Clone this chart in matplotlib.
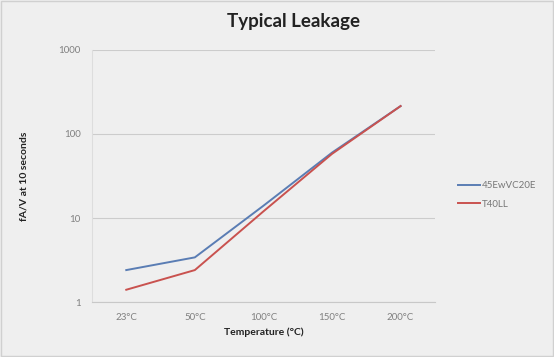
import matplotlib
matplotlib.use('Agg')
import matplotlib.pyplot as plt

# Data
temps = ['23°C', '50°C', '100°C', '150°C', '200°C']
leak_45ew = [2.4, 3.4, 14, 60, 215]
leak_t40ll = [1.4, 2.4, 12, 58, 215]

plt.rcParams['font.family'] = ['Lato', 'DejaVu Sans']

fig = plt.figure(figsize=(5.54, 3.57), dpi=100)
fig.patch.set_facecolor('#efefef')
ax = fig.add_axes([0.166, 0.154, 0.619, 0.706])
ax.set_facecolor('#efefef')

x = range(len(temps))
ax.plot(x, leak_45ew, color='#5a7db4', lw=1.4, label='45EwVC20E')
ax.plot(x, leak_t40ll, color='#c9524f', lw=1.4, label='T40LL')

ax.set_yscale('log')
ax.set_ylim(1, 1000)
ax.set_xlim(-0.5, 4.5)
ax.set_yticks([1, 10, 100, 1000])
ax.set_yticklabels(['1', '10', '100', '1000'])
ax.minorticks_off()
ax.set_xticks(list(x))
ax.set_xticklabels(temps)
ax.tick_params(length=0, labelsize=7, colors='#808080', pad=8)
ax.grid(axis='y', color='#cccccc', lw=0.8)
ax.set_axisbelow(True)
for s in ['top', 'right']:
    ax.spines[s].set_visible(False)
ax.spines['left'].set_color('#dddddd')
ax.spines['bottom'].set_color('#c8c8c8')

ax.set_xlabel('Temperature (°C)', fontsize=7.5, fontweight='bold', color='#222222', labelpad=4)
ax.set_ylabel('fA/V at 10 seconds', fontsize=7.5, fontweight='bold', color='#222222', labelpad=22)
fig.text(0.53, 0.94, 'Typical Leakage', ha='center', va='center', fontsize=13.5, fontweight='bold', color='#222222')

ax.legend(loc='center left', bbox_to_anchor=(1.0, 0.425), frameon=False, fontsize=7,
          labelcolor='#777777', handlelength=2.2, handletextpad=0.2, labelspacing=1.0,
          borderaxespad=2.0)

# thin frame around the whole picture
fig.add_artist(plt.Rectangle((0.002, 0.003), 0.996, 0.994, transform=fig.transFigure,
                             fill=False, edgecolor='#d0d0d0', lw=1))

fig.savefig('out.png', dpi=100, facecolor=fig.get_facecolor())
